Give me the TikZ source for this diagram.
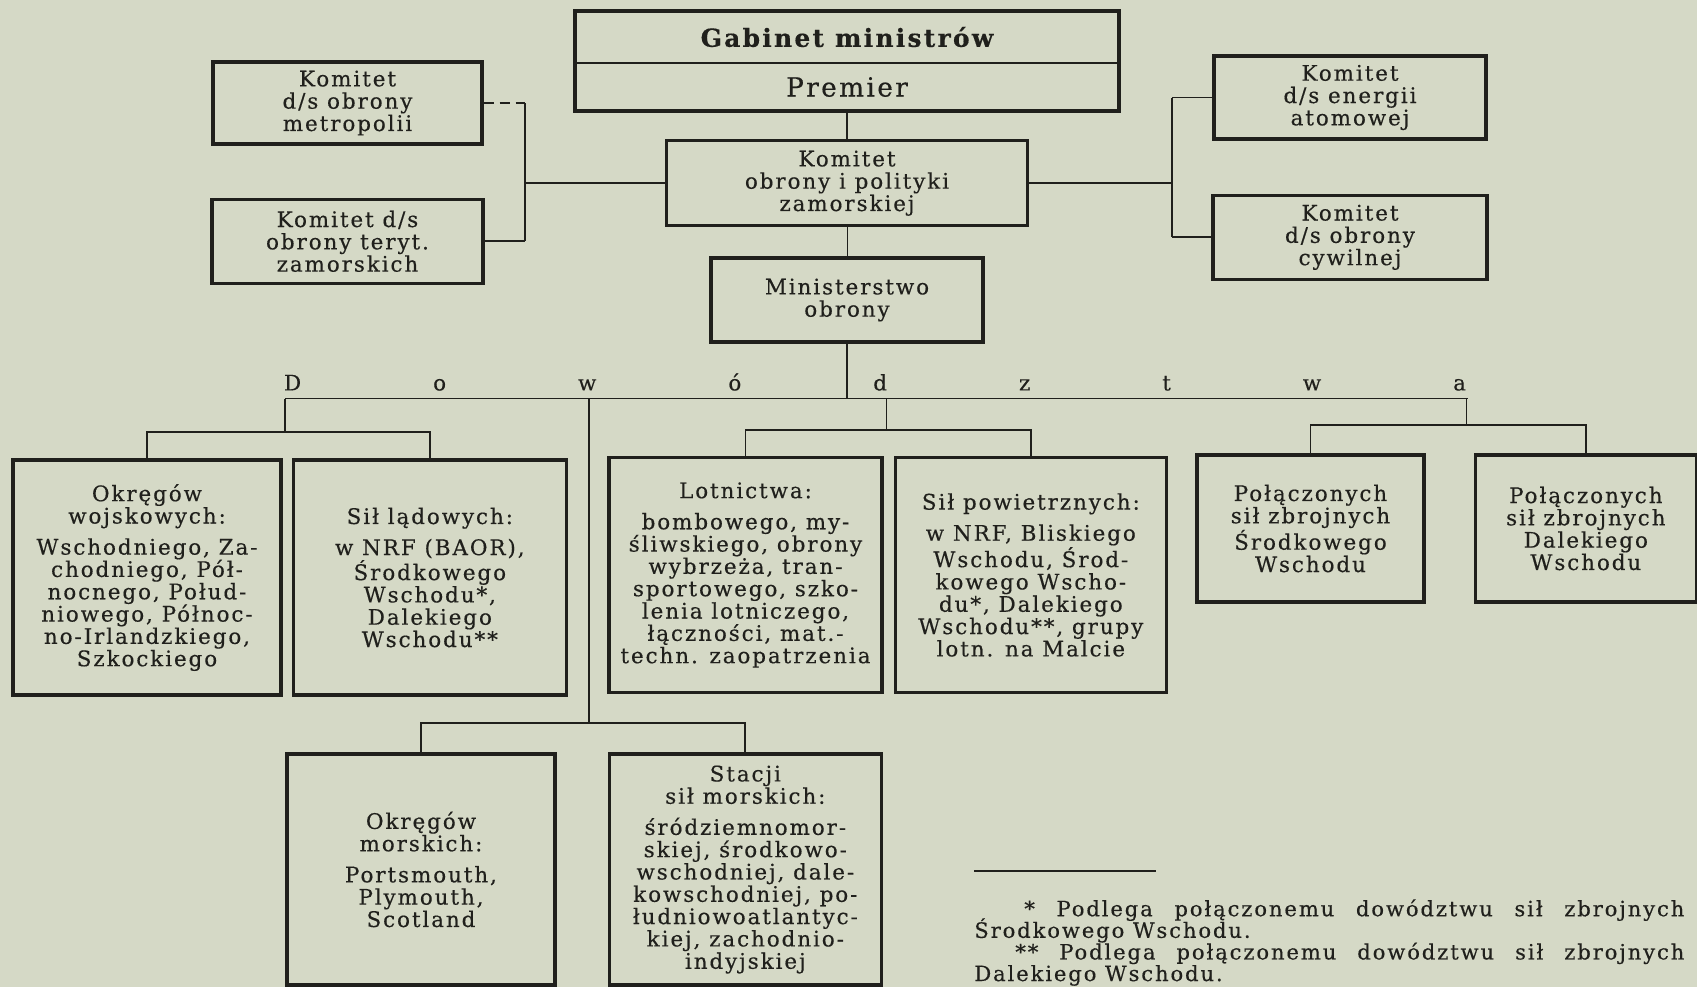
\documentclass[tikz,border=0pt]{standalone}
\usepackage{fontspec}
\setmainfont{DejaVu Serif}[LetterSpace=9, FakeBold=0.4]
\usetikzlibrary{positioning, fit}

\definecolor{paper}{RGB}{213,217,198}
\definecolor{ink}{RGB}{32,32,28}

\newcommand{\tekst}{\fontsize{12.2}{12.7}\selectfont}
\newcommand{\przypisy}{\fontsize{12}{12.3}\selectfont\lineskiplimit=-20pt\relax}
\tikzstyle{box} = [rectangle, draw=ink, line width=1.9pt, text=ink, align=center, inner sep=2pt, font=\tekst]
\tikzstyle{part} = [rectangle, text=ink, align=center, inner sep=0pt, outer sep=0pt, minimum width=10.88cm]
\tikzstyle{line} = [draw=ink, line width=1pt]

\begin{document}
\begin{tikzpicture}
\path[use as bounding box, fill=paper] (0,0) rectangle (33.94,-19.74);

% Gabinet i komitety
\node (gabinet) [part, minimum height=1.04cm, font=\fontsize{14.2}{16}\selectfont\bfseries] at (16.94,-0.74) {Gabinet ministrów};
\node (premier) [part, minimum height=0.96cm, font=\fontsize{15}{17}\selectfont, below=0pt of gabinet] {Premier};
\node (rama) [draw=ink, line width=1.9pt, inner sep=0pt, fit=(gabinet) (premier)] {};
\draw [draw=ink, line width=1.2pt] (gabinet.south west) -- (gabinet.south east);
\node (komitet) [box, minimum width=7.22cm, minimum height=1.70cm, below=0.56cm of premier] {Komitet\\obrony i polityki\\zamorskiej};
\node (ministerstwo) [box, minimum width=5.44cm, minimum height=1.68cm, below=0.58cm of komitet] {Ministerstwo\\obrony};

\node (metropolii) [box, minimum width=5.38cm, minimum height=1.64cm] at (6.95,-2.06) {Komitet\\d/s obrony\\metropolii};
\node (zamorskich) [box, minimum width=5.42cm, minimum height=1.68cm, below=1.04cm of metropolii] {Komitet d/s\\obrony teryt.\\zamorskich};

\node (energii) [box, minimum width=5.44cm, minimum height=1.66cm] at (27.0,-1.95) {Komitet\\d/s energii\\atomowej};
\node (cywilnej) [box, minimum width=5.48cm, minimum height=1.68cm, below=1.06cm of energii] {Komitet\\d/s obrony\\cywilnej};

% Dowodztwa
\node (dowodztwa) [text width=23.64cm, inner sep=0pt, text=ink, font=\tekst] at (17.5,-7.64) {D\hfill o\hfill w\hfill ó\hfill d\hfill z\hfill t\hfill w\hfill a};

\node (okregi) [box, minimum width=5.36cm, minimum height=4.70cm] at (2.94,-11.55) {Okręgów\\wojskowych:\\[5pt]Wschodniego, Za-\\chodniego, Pół-\\nocnego, Połud-\\niowego, Północ-\\no-Irlandzkiego,\\Szkockiego};
\node (ladowe) [box, minimum width=5.46cm, minimum height=4.70cm, right=0.18cm of okregi] {Sił lądowych:\\[5pt]w NRF (BAOR),\\Środkowego\\Wschodu*,\\Dalekiego\\Wschodu**};
\node (lotnictwo) [box, minimum width=5.46cm, minimum height=4.70cm] at (14.91,-11.5) {Lotnictwa:\\[5pt]bombowego, my-\\śliwskiego, obrony\\wybrzeża, tran-\\sportowego, szko-\\lenia lotniczego,\\łączności, mat.-\\techn. zaopatrzenia};
\node (powietrzne) [box, minimum width=5.42cm, minimum height=4.70cm, right=0.2cm of lotnictwo] {Sił powietrznych:\\[5pt]w NRF, Bliskiego\\Wschodu, Środ-\\kowego Wscho-\\du*, Dalekiego\\Wschodu**, grupy\\lotn. na Malcie};
\node (sw) [box, minimum width=4.54cm, minimum height=2.94cm] at (26.21,-10.57) {Połączonych\\sił zbrojnych\\Środkowego\\Wschodu};
\node (dw) [box, minimum width=4.42cm, minimum height=2.94cm, right=0.96cm of sw] {Połączonych\\sił zbrojnych\\Dalekiego\\Wschodu};

\node (morskie) [box, minimum width=5.36cm, minimum height=4.62cm] at (8.42,-17.39) {Okręgów\\morskich:\\[5pt]Portsmouth,\\Plymouth,\\Scotland};
\node (stacje) [box, minimum width=5.44cm, minimum height=4.62cm, right=1.02cm of morskie] {Stacji\\sił morskich:\\[5pt]śródziemnomor-\\skiej, środkowo-\\wschodniej, dale-\\kowschodniej, po-\\łudniowoatlantyc-\\kiej, zachodnio-\\indyjskiej};

% Polaczenia gorne
\coordinate (lwezel) at (10.5,-3.70);
\coordinate (pwezel) at (23.44,-3.70);
\draw [line, dash pattern=on 0.2cm off 0.12cm] (metropolii.east) -- (metropolii.east -| lwezel);
\draw [line] (metropolii.east -| lwezel) -- (zamorskich.east -| lwezel);
\draw [line] (zamorskich.east) -- (zamorskich.east -| lwezel);
\draw [line] (komitet.west) -- (komitet.west -| lwezel);
\draw [line] (komitet.east) -- (komitet.east -| pwezel);
\draw [line] (energii.west -| pwezel) -- (cywilnej.west -| pwezel);
\draw [line] (energii.west) -- (energii.west -| pwezel);
\draw [line] (cywilnej.west) -- (cywilnej.west -| pwezel);
\draw [line] (rama.south) -- (komitet.north);
\draw [draw=ink, line width=0.5pt] (komitet.south) -- (ministerstwo.north);

% Szyna dowodztw
\coordinate (szyna_l) at (5.7,-7.97);
\coordinate (szyna_p) at (29.35,-7.97);
\coordinate (gr1) at (5.7,-8.64);
\coordinate (gr2) at (17.73,-8.6);
\coordinate (gr3) at (29.33,-8.5);
\coordinate (gr4) at (11.78,-14.46);
\draw [line] (szyna_l) -- (szyna_p);
\draw [line] (ministerstwo.south) -- (ministerstwo.south |- szyna_l);
\draw [line] (szyna_l) -- (gr1) (okregi.north) |- (ladowe.north |- gr1) -- (ladowe.north);
\draw [line] (gr2 |- szyna_l) -- (gr2) (lotnictwo.north) |- (powietrzne.north |- gr2) -- (powietrzne.north);
\draw [line] (gr3 |- szyna_l) -- (gr3) (sw.north) |- (dw.north |- gr3) -- (dw.north);
\draw [line] (gr4 |- szyna_l) -- (gr4) (morskie.north) |- (stacje.north |- gr4) -- (stacje.north);

% Przypisy
\draw [line] (19.48,-17.42) -- ++(3.64,0);
\node (przypis) [anchor=north west, align=left, inner sep=0pt, text=ink, font=\przypisy] at (19.48,-17.98) {\hspace*{1.0cm}\makebox[13.2cm][s]{* Podlega połączonemu dowództwu sił zbrojnych}\\Środkowego Wschodu.\\\hspace*{0.82cm}\makebox[13.38cm][s]{** Podlega połączonemu dowództwu sił zbrojnych}\\Dalekiego Wschodu.};

\end{tikzpicture}
\end{document}
